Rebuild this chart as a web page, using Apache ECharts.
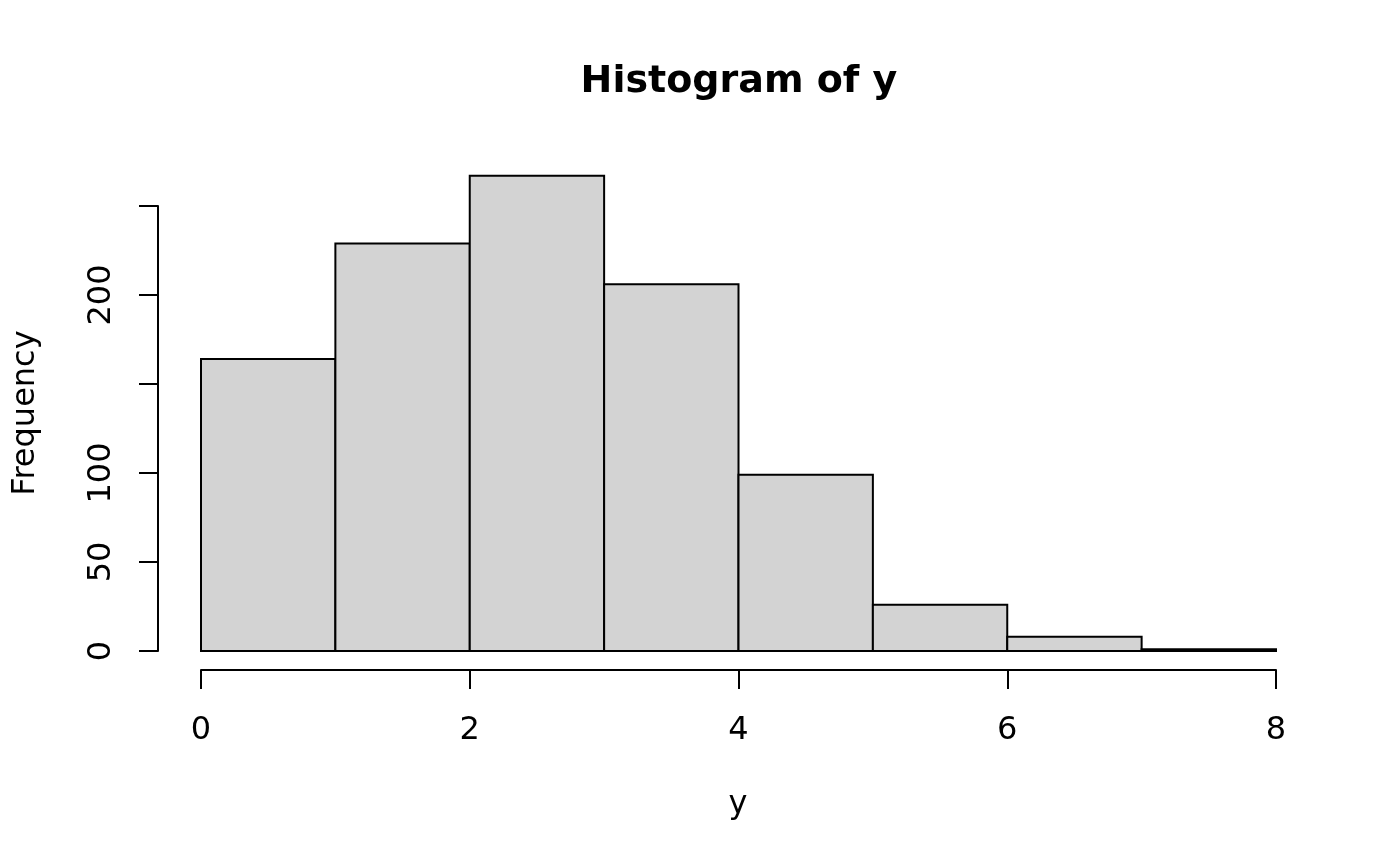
<!DOCTYPE html>
<html>
<head>
<meta charset="utf-8">
<script src="https://cdn.jsdelivr.net/npm/echarts@6/dist/echarts.min.js"></script>
<style>html,body{margin:0;padding:0;background:#fff}#c{width:1400px;height:866px}</style>
</head>
<body>
<div id="c"></div>
<script>
var titleText = 'Histogram of y';
var xAxisTitle = 'y';
var yAxisTitle = 'Frequency';
var binStarts = [0, 1, 2, 3, 4, 5, 6, 7];
var binEnds   = [1, 2, 3, 4, 5, 6, 7, 8];
var counts    = [164, 229, 267, 206, 99, 26, 8, 1];
var xTickValues = [0, 2, 4, 6, 8];
var xTickLabels = ['0', '2', '4', '6', '8'];
var yTickValues = [0, 50, 100, 150, 200, 250];
var yTickLabels = ['0', '50', '100', '', '200', ''];

var FONT = 'DejaVu Sans';
var data = binStarts.map(function (s, i) { return [s, binEnds[i], counts[i]]; });

var chart = echarts.init(document.getElementById('c'), null, {renderer: 'canvas'});
chart.setOption({
  animation: false,
  backgroundColor: '#ffffff',
  title: {
    text: titleText,
    left: 734, top: 58,
    textAlign: 'center',
    textStyle: {fontFamily: FONT, fontSize: 38, fontWeight: 'bold', color: '#000'}
  },
  grid: {left: 201, right: 124, top: 206, bottom: 215, containLabel: false},
  xAxis: {
    type: 'value', min: xTickValues[0], max: xTickValues[xTickValues.length - 1],
    interval: xTickValues[1] - xTickValues[0],
    position: 'bottom', offset: 19,
    splitLine: {show: false},
    axisLine: {show: true, onZero: false, lineStyle: {color: '#000', width: 2}},
    axisTick: {show: true, length: 19, lineStyle: {color: '#000', width: 2}},
    axisLabel: {
      margin: 45, fontFamily: FONT, fontSize: 32, color: '#000',
      formatter: function (v) { var i = xTickValues.indexOf(v); return i >= 0 ? xTickLabels[i] : ''; }
    }
  },
  yAxis: {
    type: 'value', min: yTickValues[0], max: yTickValues[yTickValues.length - 1],
    interval: yTickValues[1] - yTickValues[0],
    position: 'left', offset: 43,
    splitLine: {show: false},
    axisLine: {show: true, onZero: false, lineStyle: {color: '#000', width: 2}},
    axisTick: {show: true, length: 19, lineStyle: {color: '#000', width: 2}},
    axisLabel: {
      rotate: 90, margin: 40, fontFamily: FONT, fontSize: 32, color: '#000',
      formatter: function (v) { var i = yTickValues.indexOf(v); return i >= 0 ? yTickLabels[i] : ''; }
    }
  },
  graphic: [
    {type: 'text', x: 738, y: 805, style: {text: xAxisTitle, fontFamily: FONT, fontSize: 32, fill: '#000', textAlign: 'center', textVerticalAlign: 'middle'}},
    {type: 'text', x: 26, y: 413, rotation: Math.PI / 2, style: {text: yAxisTitle, fontFamily: FONT, fontSize: 32, fill: '#000', textAlign: 'center', textVerticalAlign: 'middle'}}
  ],
  series: [{
    type: 'custom',
    clip: false,
    data: data,
    encode: {x: [0, 1], y: 2},
    renderItem: function (params, api) {
      var p0 = api.coord([api.value(0), 0]);
      var p1 = api.coord([api.value(1), api.value(2)]);
      return {
        type: 'rect',
        shape: {x: p0[0], y: p1[1], width: p1[0] - p0[0], height: p0[1] - p1[1]},
        style: {fill: '#d3d3d3', stroke: '#000', lineWidth: 2}
      };
    }
  }]
});
</script>
</body>
</html>
